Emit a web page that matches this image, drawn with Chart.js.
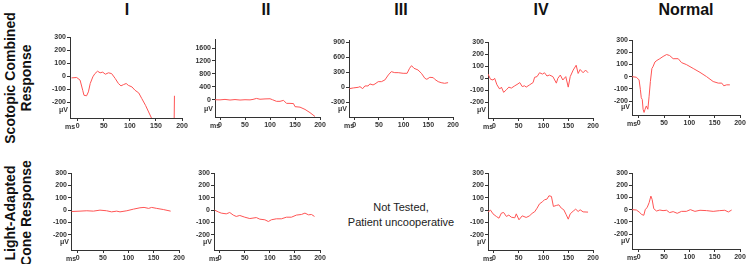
<!DOCTYPE html>
<html>
<head>
<meta charset="utf-8">
<script src="https://cdn.jsdelivr.net/npm/chart.js@4"></script>
<style>
  body { margin: 0; background: #fff; }
  #wrap { position: relative; width: 747px; height: 264px; overflow: hidden; font-family: "Liberation Sans", Arial, sans-serif; }
  #wrap canvas { position: absolute; }
  .title { position: absolute; top: 1px; font-weight: bold; font-size: 16px; transform: translateX(-50%); color: #111; }
  .row { position: absolute; font-weight: bold; font-size: 14px; line-height: 16px; text-align: center; white-space: nowrap;
         transform: translate(-50%, -50%) rotate(-90deg); color: #111; }
  .note { position: absolute; left: 401px; top: 200px; transform: translateX(-50%); font-size: 11px; line-height: 15px; text-align: center; white-space: nowrap; color: #222; }
</style>
</head>
<body>
<div id="wrap">
  <div class="title" style="left:127px">I</div>
  <div class="title" style="left:266px">II</div>
  <div class="title" style="left:401px">III</div>
  <div class="title" style="left:541px">IV</div>
  <div class="title" style="left:686px">Normal</div>
  <div class="row" style="left:18px; top:78px">Scotopic Combined<br>Response</div>
  <div class="row" style="left:18px; top:213px">Light-Adapted<br>Cone Response</div>
  <div class="note">Not Tested,<br>Patient uncooperative</div>
</div>
<script>
// column / row labels
var columns = ['I', 'II', 'III', 'IV', 'Normal'];
var rows = ['Scotopic Combined Response', 'Light-Adapted Cone Response'];

// tick labels
var timeTicks = [0, 50, 100, 150, 200];
var uv300Ticks = [-200, -100, 0, 100, 200, 300];
var uv1600Ticks = [0, 400, 800, 1200, 1600];
var uv900Ticks = [-300, 0, 300, 600, 900];

// scotopic combined response (ms / μV)
var scotI_ms = [-12, -2, 4.5, 9.6, 12, 17, 20.5, 24, 29, 33, 38, 43, 48, 53, 59, 65, 72, 78, 83, 88, 93, 97, 104, 110, 117, 123, 130, 136, 142, 150, 160, 172, 184, 185.5];
var scotI_uv = [-13, -10, -30, -108, -146, -150, -120, -56, -5, 20, 38, 26, 31, 15, 26, 20, -18, -56, -74, -64, -56, -70, -82, -108, -128, -172, -223, -274, -325, -400, -480, -580, -700, -150];

var scotII_ms = [-10, 0, 10, 20, 30, 40, 50, 60, 66, 73, 80, 90, 100, 105, 113, 120, 127, 133, 140, 147, 150, 160, 170, 180, 190];
var scotII_uv = [0, -5, 10, -10, 5, -10, 0, -5, 10, 40, 15, 25, 30, 0, -50, -50, -20, -113, -113, -120, -215, -230, -300, -400, -520];

var scotIII_ms = [-10, -2, 8, 11.5, 17, 21.5, 28, 31.6, 38, 42, 48.5, 55, 62, 69, 75, 82, 89, 99, 107, 112, 116, 121, 129, 136, 143, 147, 153, 160, 163, 170, 176, 183, 190];
var scotIII_uv = [-27, -13, 0, 13, -27, 27, 27, 67, 47, 67, 113, 113, 147, 247, 313, 293, 293, 280, 280, 380, 433, 380, 347, 280, 180, 160, 200, 193, 160, 113, 93, 80, 93];

var scotIV_ms = [-12, -7, -2, 1.3, 6, 11.5, 15, 19.5, 25, 30, 35, 42, 48.5, 52, 57, 62, 65, 72, 79, 82, 87, 92, 98, 102, 107, 112, 119, 126, 129, 134, 139, 145, 150, 154, 160, 166, 170, 174, 180, 185, 190];
var scotIV_uv = [35, -8, -14, 0, -54, -89, -73, -116, -95, -73, -81, -62, -46, -35, -68, -62, -73, -54, -35, 8, 14, 46, 35, 46, 19, 27, 14, -40, 0, 27, -14, 14, -73, 14, 68, 108, 40, 73, 46, 68, 46];

var scotN_ms = [-13, -4.6, 0.7, 3.3, 5, 7, 8.6, 10.5, 12.5, 15, 18, 20.5, 23, 26, 28, 32, 36, 41.6, 48, 55, 61, 68, 78, 84.5, 94, 107.6, 121, 134, 147, 157, 164, 168, 173.6, 180];
var scotN_uv = [0, -5, -27, -107, -173, -187, -267, -293, -267, -240, -267, -160, -40, 67, 80, 120, 133, 147, 165, 181, 173, 147, 147, 115, 99, 67, 35, 0, -40, -53, -53, -75, -67, -67];

// light-adapted cone response (ms / μV)
var coneI_ms = [-12, 4.6, 18, 31, 44, 57, 67, 77, 83.5, 97, 110, 123, 131, 140, 146, 156, 169, 183.5];
var coneI_uv = [-11, -8, -5, -8, 0, -5, -14, -8, -14, -5, 8, 19, 22, 14, 22, 14, 5, -8];

var coneII_ms = [-10, -3, 3, 13, 20, 27, 33, 40, 50, 60, 73, 80, 90, 97, 103, 113, 123, 133, 143, 153, 163, 170, 177, 183, 189];
var coneII_uv = [0, -14, -24, -30, -19, -40, -51, -43, -57, -68, -60, -73, -78, -92, -78, -70, -70, -57, -57, -40, -35, -24, -38, -35, -51];

var coneIV_ms = [-12, -7, -2, 4.7, 10, 15, 19.5, 25, 30, 35, 42, 45, 50.5, 57, 65, 72, 77.4, 82, 87, 92, 98, 102, 107, 111, 116, 120, 126, 131, 136, 141, 146, 150, 154, 160, 165, 170, 174, 180, 190];
var coneIV_uv = [-14, 0, -30, -51, -65, -24, -19, -51, -40, -57, -62, -30, -78, -46, -59, -46, -24, -14, 16, 51, 68, 84, 89, 116, 111, 30, 38, 43, 16, 3, -38, -73, -30, -8, 8, -11, 3, -14, -16];

var coneN_ms = [-13, -4.6, 0.7, 6, 10, 13, 16.5, 20.5, 24, 26.4, 29.7, 35, 41.6, 48, 55, 61, 68, 76, 84.5, 94, 102, 111, 121, 134, 147, 160, 170, 177, 183.5];
var coneN_uv = [0, -3, -19, -40, -46, 3, 16, 57, 111, 84, 8, -11, -3, -8, -5, -24, -16, -30, -14, -14, 0, -14, -5, -8, -14, -8, -5, -19, -3];

// panel placement (pixels) and axis ranges
var panels = [
  { ms: scotI_ms,  uv: scotI_uv,  yt: uv300Ticks,  yMin: -320, yMax: 300,  xMin: -14.8, axisX: 70,  right: 182, top: 37,  bottom: 118 },
  { ms: scotII_ms, uv: scotII_uv, yt: uv1600Ticks, yMin: -535, yMax: 1880, xMin: -10,   axisX: 215, right: 320, top: 39,  bottom: 117 },
  { ms: scotIII_ms,uv: scotIII_uv,yt: uv900Ticks,  yMin: -594, yMax: 946,  xMin: -10.7, axisX: 349, right: 453, top: 40,  bottom: 117 },
  { ms: scotIV_ms, uv: scotIV_uv, yt: uv300Ticks,  yMin: -328, yMax: 300,  xMin: -12.1, axisX: 488, right: 593, top: 42,  bottom: 118 },
  { ms: scotN_ms,  uv: scotN_uv,  yt: uv300Ticks,  yMin: -314, yMax: 300,  xMin: -13.3, axisX: 632, right: 740, top: 40,  bottom: 115 },
  { ms: coneI_ms,  uv: coneI_uv,  yt: uv300Ticks,  yMin: -322, yMax: 300,  xMin: -13.2, axisX: 71,  right: 179, top: 173, bottom: 250 },
  { ms: coneII_ms, uv: coneII_uv, yt: uv300Ticks,  yMin: -322, yMax: 300,  xMin: -11.4, axisX: 214, right: 320, top: 173, bottom: 250 },
  { ms: coneIV_ms, uv: coneIV_uv, yt: uv300Ticks,  yMin: -322, yMax: 300,  xMin: -12.1, axisX: 488, right: 593, top: 173, bottom: 250 },
  { ms: coneN_ms,  uv: coneN_uv,  yt: uv300Ticks,  yMin: -322, yMax: 300,  xMin: -13.3, axisX: 632, right: 740, top: 173, bottom: 249 }
];

var LEFT_W = 30, BOTTOM_H = 12, PAD_T = 6, PAD_R = 7;
var axisColor = '#333';
var tickFont = { family: '"Liberation Sans", Arial, sans-serif', size: 7, weight: 'bold' };

// "μV" and "ms" unit labels next to the axes
var unitLabels = {
  id: 'unitLabels',
  afterDraw: function (chart) {
    var ctx = chart.ctx, a = chart.chartArea;
    ctx.save();
    ctx.font = 'bold 7px "Liberation Sans", Arial, sans-serif';
    ctx.fillStyle = axisColor;
    ctx.textBaseline = 'middle';
    ctx.textAlign = 'right';
    ctx.fillText('μV', a.left - 2, a.bottom - 8);
    ctx.textAlign = 'center';
    ctx.fillText('ms', a.left, a.bottom + 9);
    ctx.restore();
  }
};

var wrap = document.getElementById('wrap');

panels.forEach(function (p) {
  var cv = document.createElement('canvas');
  var w = LEFT_W + (p.right - p.axisX) + PAD_R;
  var h = PAD_T + (p.bottom - p.top) + BOTTOM_H;
  cv.width = w; cv.height = h;
  cv.style.left = (p.axisX - LEFT_W) + 'px';
  cv.style.top = (p.top - PAD_T) + 'px';
  cv.style.width = w + 'px'; cv.style.height = h + 'px';
  wrap.appendChild(cv);

  new Chart(cv, {
    type: 'line',
    data: {
      datasets: [{
        data: p.ms.map(function (t, i) { return { x: t, y: p.uv[i] }; }),
        borderColor: '#ff5454',
        borderWidth: 1,
        pointRadius: 0,
        tension: 0,
        fill: false
      }]
    },
    options: {
      responsive: false,
      animation: false,
      devicePixelRatio: 1,
      layout: { padding: { top: PAD_T, right: PAD_R, left: 0, bottom: 0 } },
      plugins: { legend: { display: false }, tooltip: { enabled: false } },
      scales: {
        x: {
          type: 'linear',
          min: p.xMin, max: 200,
          afterBuildTicks: function (s) { s.ticks = timeTicks.map(function (v) { return { value: v }; }); },
          afterFit: function (s) { s.height = BOTTOM_H; },
          grid: { drawOnChartArea: false, drawTicks: true, tickLength: 3, color: axisColor },
          border: { display: true, color: axisColor, width: 1 },
          ticks: { font: tickFont, color: axisColor, padding: 1, maxRotation: 0, autoSkip: false,
                   callback: function (v) { return String(v); } }
        },
        y: {
          type: 'linear',
          min: p.yMin, max: p.yMax,
          afterBuildTicks: function (s) { s.ticks = p.yt.map(function (v) { return { value: v }; }); },
          afterFit: function (s) { s.width = LEFT_W; },
          grid: { drawOnChartArea: false, drawTicks: true, tickLength: 3, color: axisColor },
          border: { display: true, color: axisColor, width: 1 },
          ticks: { font: tickFont, color: axisColor, padding: 1, autoSkip: false,
                   callback: function (v) { return String(v); } }
        }
      }
    },
    plugins: [unitLabels]
  });
});
</script>
</body>
</html>
